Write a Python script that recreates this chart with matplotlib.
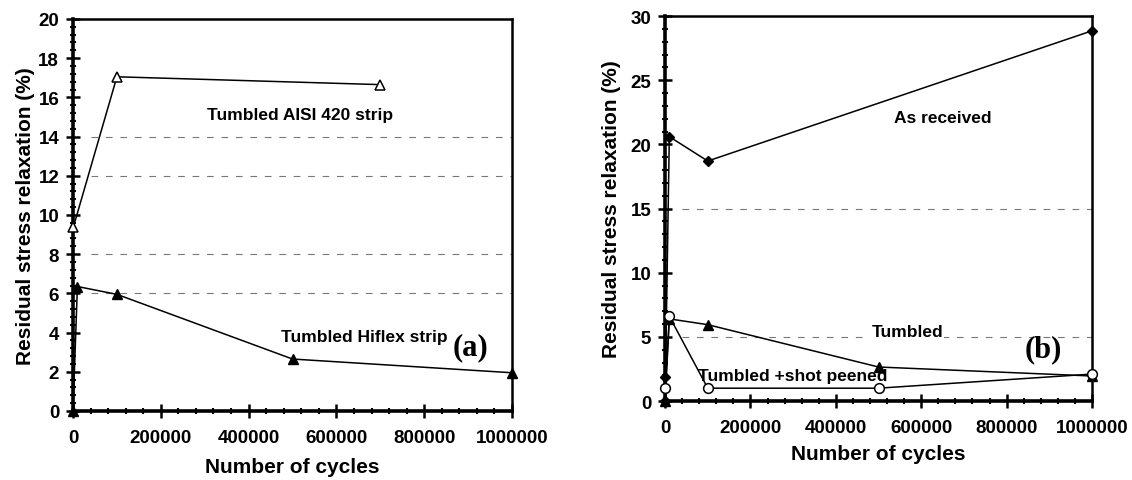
import numpy as np
import matplotlib.pyplot as plt
from matplotlib.ticker import MultipleLocator

plt.rcParams['font.family'] = ['Liberation Sans', 'DejaVu Sans']
plt.rcParams['font.weight'] = 'bold'

# (a) strips
aisi_cycles = [1000, 100000, 700000]
aisi_relax = [9.4, 17.05, 16.65]
hiflex_cycles = [0, 10000, 100000, 500000, 1000000]
hiflex_relax = [0.0, 6.35, 5.95, 2.65, 1.95]

# (b) surface treatments
recv_cycles = [0, 1000, 10000, 100000, 1000000]
recv_relax = [0.0, 1.9, 20.6, 18.7, 28.85]
tumb_cycles = [0, 10000, 100000, 500000, 1000000]
tumb_relax = [0.0, 6.4, 5.95, 2.65, 1.95]
peen_cycles = [1000, 10000, 100000, 500000, 1000000]
peen_relax = [1.0, 6.6, 1.0, 1.0, 2.1]

xticks = [0, 200000, 400000, 600000, 800000, 1000000]

fig = plt.figure(figsize=(11.32, 4.81), dpi=100)
ax1 = fig.add_axes([0.0645, 0.1435, 0.3878, 0.815])
ax2 = fig.add_axes([0.5875, 0.1642, 0.3772, 0.8004])


def style_axes(ax, ymax, ymajor, yminor, ypad, xpad):
    ax.set_xlim(0, 1000000)
    ax.set_ylim(0, ymax)
    ax.set_xticks(xticks)
    ax.set_xticklabels([str(t) for t in xticks])
    ax.xaxis.set_minor_locator(MultipleLocator(40000))
    ax.yaxis.set_major_locator(MultipleLocator(ymajor))
    ax.yaxis.set_minor_locator(MultipleLocator(yminor))
    ax.tick_params(which='major', direction='inout', length=10, width=1.8,
                   labelsize=13.5, pad=5)
    ax.tick_params(which='minor', direction='inout', length=5, width=1.5)
    ax.tick_params(axis='x', which='major', pad=8)
    for side in ['left', 'bottom']:
        ax.spines[side].set_linewidth(2.6)
    for side in ['top', 'right']:
        ax.spines[side].set_linewidth(1.8)
    ax.set_xlabel('Number of cycles', fontsize=15, fontweight='bold', labelpad=xpad)
    ax.set_ylabel('Residual stress relaxation (%)', fontsize=15,
                  fontweight='bold', labelpad=ypad)


style_axes(ax1, 20, 2, 0.4, 2, 8)
style_axes(ax2, 30, 5, 1, 7, 6)

for y in [6, 8, 12, 14]:
    ax1.axhline(y, xmin=0.04, color='#777777', lw=0.8, dashes=(6, 7), zorder=1)
for y in [5, 15]:
    ax2.axhline(y, xmin=0.04, color='#777777', lw=0.8, dashes=(6, 7), zorder=1)

ax1.plot(aisi_cycles, aisi_relax, color='black', lw=1.1, marker='^',
         markersize=7, markerfacecolor='white', markeredgewidth=1.1, clip_on=False, zorder=3)
ax1.plot(hiflex_cycles, hiflex_relax, color='black', lw=1.1, marker='^',
         markersize=7, clip_on=False, zorder=3)

ax1.text(517000, 15.15, 'Tumbled AISI 420 strip', fontsize=12.5, fontweight='bold',
         ha='center', va='center')
ax1.text(663000, 3.8, 'Tumbled Hiflex strip', fontsize=12.5, fontweight='bold',
         ha='center', va='center')
ax1.text(905000, 3.3, '(a)', fontsize=22, fontweight='bold',
         family=['Liberation Serif', 'DejaVu Serif'], ha='center', va='center')

ax2.plot(recv_cycles, recv_relax, color='black', lw=1.1, marker='D',
         markersize=5, clip_on=False, zorder=3)
ax2.plot(tumb_cycles, tumb_relax, color='black', lw=1.1, marker='^',
         markersize=7, clip_on=False, zorder=3)
ax2.plot(peen_cycles, peen_relax, color='black', lw=1.1, marker='o',
         markersize=7, markerfacecolor='white', markeredgewidth=1.1, clip_on=False, zorder=4)

ax2.text(651000, 22.1, 'As received', fontsize=12.5, fontweight='bold',
         ha='center', va='center')
ax2.text(567000, 5.4, 'Tumbled', fontsize=12.5, fontweight='bold', ha='center',
         va='center', bbox=dict(facecolor='white', edgecolor='none', pad=1), zorder=2)
ax2.text(300000, 1.95, 'Tumbled +shot peened', fontsize=12.5, fontweight='bold',
         ha='center', va='center', zorder=5)
ax2.text(885000, 4.05, '(b)', fontsize=22, fontweight='bold',
         family=['Liberation Serif', 'DejaVu Serif'], ha='center', va='center')

fig.savefig('out.png', dpi=100)
